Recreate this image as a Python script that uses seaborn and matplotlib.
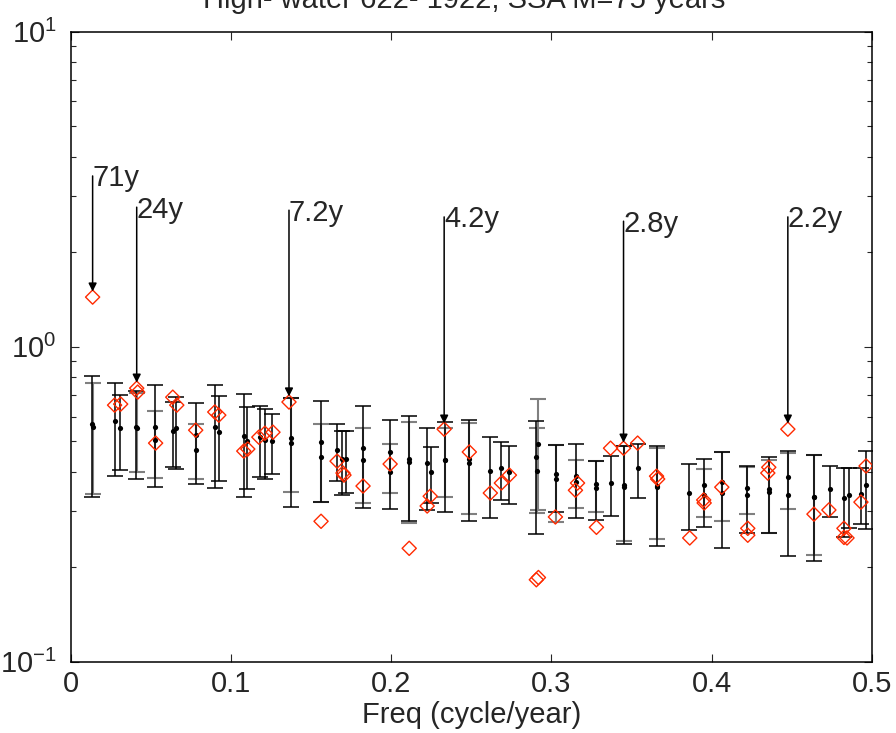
import numpy as np
import matplotlib
matplotlib.use("Agg")
import matplotlib.pyplot as plt
import seaborn as sns

# ---- datos ----
# espectro SSA (rombos rojos)
peak_freq = [0.0138, 0.0275, 0.0313, 0.0413, 0.0419, 0.0531, 0.0638, 0.0663, 0.0781,
             0.0900, 0.0925, 0.1081, 0.1106, 0.1175, 0.1213, 0.1263, 0.1363, 0.1563,
             0.1663, 0.1700, 0.1706, 0.1825, 0.1994, 0.2113, 0.2225, 0.2244, 0.2331,
             0.2488, 0.2619, 0.2688, 0.2738, 0.2906, 0.2919, 0.3025, 0.3150, 0.3163,
             0.3281, 0.3369, 0.3450, 0.3538, 0.3656, 0.3663, 0.3863, 0.3950, 0.3953,
             0.4063, 0.4225, 0.4225, 0.4356, 0.4350, 0.4475, 0.4638, 0.4731, 0.4825,
             0.4844, 0.4825, 0.4931, 0.4963]
peak_val = [1.436, 0.652, 0.657, 0.738, 0.717, 0.494, 0.691, 0.652, 0.543,
            0.620, 0.606, 0.466, 0.473, 0.516, 0.531, 0.535, 0.667, 0.279,
            0.433, 0.397, 0.391, 0.361, 0.424, 0.229, 0.312, 0.335, 0.547,
            0.463, 0.343, 0.369, 0.391, 0.182, 0.185, 0.288, 0.350, 0.369,
            0.267, 0.476, 0.476, 0.494, 0.388, 0.380, 0.247, 0.326, 0.319,
            0.358, 0.265, 0.252, 0.414, 0.397, 0.547, 0.294, 0.303, 0.265,
            0.247, 0.248, 0.321, 0.418]

# barras de error, serie negra (freq, inferior, mediana, superior)
eb_freq = [0.0133, 0.0279, 0.0308, 0.0411, 0.0529, 0.0639, 0.0661, 0.0781, 0.0900,
           0.0925, 0.1083, 0.1104, 0.1180, 0.1213, 0.1260, 0.1373, 0.1563, 0.1664,
           0.1692, 0.1717, 0.1827, 0.1994, 0.2114, 0.2223, 0.2246, 0.2338, 0.2488,
           0.2619, 0.2688, 0.2738, 0.2905, 0.3027, 0.3156, 0.3279, 0.3369, 0.3452,
           0.3539, 0.3656, 0.3861, 0.3952, 0.4063, 0.4223, 0.4358, 0.4473, 0.4639,
           0.4736, 0.4827, 0.4854, 0.4931, 0.4964]
eb_lo = [0.334, 0.389, 0.406, 0.381, 0.359, 0.415, 0.408, 0.366, 0.355,
         0.374, 0.334, 0.353, 0.386, 0.381, 0.394, 0.310, 0.322, 0.374,
         0.338, 0.342, 0.308, 0.306, 0.279, 0.303, 0.320, 0.299, 0.279,
         0.286, 0.326, 0.316, 0.255, 0.299, 0.286, 0.281, 0.290, 0.237,
         0.330, 0.233, 0.261, 0.268, 0.230, 0.256, 0.257, 0.217, 0.209,
         0.288, 0.249, 0.265, 0.273, 0.263]
eb_med = [0.567, 0.580, 0.552, 0.556, 0.556, 0.541, 0.550, 0.523, 0.556,
          0.537, 0.521, 0.500, 0.517, 0.507, 0.502, 0.511, 0.497, 0.469,
          0.439, 0.439, 0.477, 0.464, 0.439, 0.426, 0.399, 0.438, 0.441,
          0.403, 0.412, 0.401, 0.445, 0.394, 0.388, 0.366, 0.368, 0.359,
          0.411, 0.358, 0.342, 0.363, 0.372, 0.355, 0.352, 0.386, 0.334,
          0.354, 0.331, 0.338, 0.340, 0.363]
eb_hi = [0.806, 0.768, 0.702, 0.724, 0.755, 0.668, 0.690, 0.663, 0.755,
         0.698, 0.707, 0.644, 0.649, 0.633, 0.610, 0.685, 0.673, 0.567,
         0.541, 0.541, 0.649, 0.584, 0.603, 0.550, 0.479, 0.577, 0.584,
         0.517, 0.499, 0.483, 0.580, 0.486, 0.489, 0.434, 0.450, 0.484,
         0.490, 0.483, 0.423, 0.439, 0.463, 0.418, 0.447, 0.467, 0.453,
         0.418, 0.412, 0.412, 0.411, 0.466]

# barras de error, serie gris
eb2_freq = [0.0140, 0.0415, 0.0529, 0.0781, 0.1373, 0.1563, 0.1827, 0.1994, 0.2114,
            0.2338, 0.2488, 0.2915, 0.2911, 0.3027, 0.3156, 0.3279, 0.3452, 0.3656,
            0.3952, 0.4063, 0.4223, 0.4358, 0.4473, 0.4639]
eb2_lo = [0.340, 0.401, 0.383, 0.381, 0.346, 0.322, 0.320, 0.343, 0.275,
          0.334, 0.295, 0.304, 0.297, 0.278, 0.308, 0.299, 0.241, 0.246,
          0.288, 0.279, 0.295, 0.257, 0.305, 0.218]
eb2_med = [0.556, 0.552, 0.505, 0.469, 0.496, 0.445, 0.436, 0.399, 0.429,
           0.438, 0.426, 0.489, 0.403, 0.381, 0.372, 0.357, 0.363, 0.361,
           0.338, 0.344, 0.338, 0.346, 0.338, 0.334]
eb2_hi = [0.768, 0.710, 0.626, 0.570, 0.685, 0.570, 0.550, 0.490, 0.577,
          0.550, 0.574, 0.681, 0.550, 0.486, 0.436, 0.434, 0.484, 0.475,
          0.409, 0.463, 0.415, 0.436, 0.458, 0.453]

# periodos marcados
ann_labels = ["71y", "24y", "7.2y", "4.2y", "2.8y", "2.2y"]
ann_freq = [0.0138, 0.0413, 0.1363, 0.2331, 0.3450, 0.4475]
ann_peak = [1.436, 0.738, 0.667, 0.547, 0.476, 0.547]
ann_top = [3.48, 2.77, 2.71, 2.58, 2.50, 2.58]

xtick_vals = [0, 0.1, 0.2, 0.3, 0.4, 0.5]
xtick_labels = ["0", "0.1", "0.2", "0.3", "0.4", "0.5"]

# ---- estilo ----
sns.set_style("ticks")
plt.rcParams["font.family"] = ["Liberation Sans", "DejaVu Sans"]
plt.rcParams["mathtext.fontset"] = "custom"
plt.rcParams["mathtext.rm"] = "Liberation Sans"
plt.rcParams["mathtext.it"] = "Liberation Sans"
fs = 21
red = "#ff2a00"

fig = plt.figure(figsize=(8.96, 7.33), dpi=100)
ax = fig.add_axes([70.5 / 896, 1 - 661.7 / 733, 801.5 / 896, 630.2 / 733])

# barras de error
lo2, med2, hi2 = np.array(eb2_lo), np.array(eb2_med), np.array(eb2_hi)
ax.errorbar(eb2_freq, med2, yerr=[med2 - lo2, hi2 - med2], fmt="none",
            ecolor="0.5", elinewidth=1.5, capsize=5.5, capthick=1.5, zorder=2)
lo, med, hi = np.array(eb_lo), np.array(eb_med), np.array(eb_hi)
ax.errorbar(eb_freq, med, yerr=[med - lo, hi - med], fmt="none",
            ecolor="black", elinewidth=1.1, capsize=5.5, capthick=1.1, zorder=3)

# medianas
sns.scatterplot(x=eb2_freq, y=eb2_med, color="black", s=14, linewidth=0, ax=ax, zorder=4)
sns.scatterplot(x=eb_freq, y=eb_med, color="black", s=14, linewidth=0, ax=ax, zorder=4)

# espectro
sns.scatterplot(x=peak_freq, y=peak_val, marker="D", s=52, ax=ax, zorder=5)
pts = ax.collections[-1]
pts.set_facecolor("none")
pts.set_edgecolor(red)
pts.set_linewidth(1.0)

# flechas y etiquetas
for lab, f, p, t in zip(ann_labels, ann_freq, ann_peak, ann_top):
    ax.annotate("", xy=(f, p), xytext=(f, t),
                arrowprops=dict(arrowstyle="-|>", color="black", lw=1.1,
                                mutation_scale=12, shrinkA=0, shrinkB=4),
                zorder=6)
    ax.annotate(lab, xy=(f, t), xytext=(0, -7.5), textcoords="offset points",
                ha="left", va="baseline", fontsize=fs, zorder=6)

ax.set_yscale("log")
ax.set_ylim(0.1, 10)
ax.set_xlim(0, 0.5)
ax.set_xticks(xtick_vals)
ax.set_xticklabels(xtick_labels)
ax.set_xlabel("Freq (cycle/year)", fontsize=fs, labelpad=2)

for s in ax.spines.values():
    s.set_visible(True)
    s.set_linewidth(1.1)
    s.set_color("black")
ax.tick_params(which="both", direction="in", top=True, right=True, labelsize=fs)
ax.tick_params(which="major", length=6, width=0.8)
ax.tick_params(which="minor", length=3.5, width=0.8)
ax.tick_params(axis="x", pad=6)
ax.tick_params(axis="y", pad=10)
ax.grid(False)

fig.text(464 / 896, 1 - 8 / 733, "High- water 622- 1922, SSA M=75 years",
         ha="center", va="baseline", fontsize=fs)

fig.savefig("out.png", dpi=100)
